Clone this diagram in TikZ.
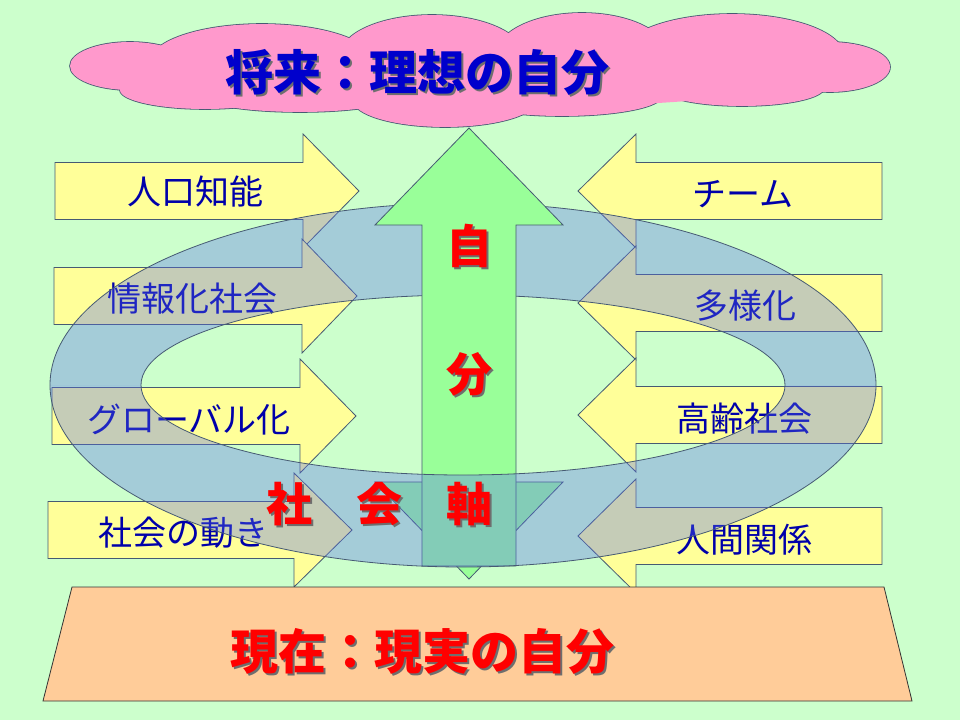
\documentclass[tikz,border=0pt]{standalone}
\usepackage{fontspec}
\usetikzlibrary{positioning}
\newfontfamily\jp{Noto Sans CJK JP}
\definecolor{bggreen}{RGB}{204,255,204}
\definecolor{cloudpink}{RGB}{255,153,204}
\definecolor{signyellow}{RGB}{255,255,153}
\definecolor{axisgreen}{RGB}{153,255,153}
\definecolor{basepeach}{RGB}{255,204,153}
\definecolor{ringblue}{RGB}{90,110,240}
\definecolor{edgeslate}{RGB}{70,90,115}
\definecolor{labelblue}{RGB}{0,0,170}
\definecolor{titleblue}{RGB}{0,0,204}
\definecolor{shadowgray}{RGB}{110,110,110}
\newcommand{\shd}[1]{\rlap{\kern2pt\raisebox{-2pt}{\color{shadowgray}#1}}#1}
\tikzset{
outline/.style={draw=edgeslate, line width=0.8pt},
sign/.style={outline, fill=signyellow},
signlabel/.style={font=\jp\fontsize{34}{40}\selectfont, text=labelblue, inner sep=0pt},
ringfill/.style={fill=ringblue, fill opacity=0.35},
bigtitle/.style={font=\jp\bfseries\fontsize{48}{56}\selectfont, inner sep=0pt},
axislabel/.style={font=\jp\bfseries\fontsize{46}{52}\selectfont, text=red, inner sep=0pt}
}

\begin{document}
\begin{tikzpicture}[x=1pt, y=-1pt]
\fill[bggreen] (0,0) rectangle (960,720);
\useasboundingbox (0,0) rectangle (960,720);
% future: cloud made of puffs
\foreach \cx/\cy/\rx/\ry in {130/66/60/24, 205/90/85/19, 262/62/112/38, 432/56/92/41, 582/55/86/42,
732/56/112/42, 830/67/60/25, 742/88/82/18, 562/96/100/20, 445/100/92/27, 300/95/100/17}
\draw[outline, line width=1.6pt] (\cx,\cy) ellipse[x radius=\rx, y radius=\ry];
\foreach \cx/\cy/\rx/\ry in {130/66/60/24, 205/90/85/19, 262/62/112/38, 432/56/92/41, 582/55/86/42,
732/56/112/42, 830/67/60/25, 742/88/82/18, 562/96/100/20, 445/100/92/27, 300/95/100/17, 480/72/350/36}
\fill[cloudpink] (\cx,\cy) ellipse[x radius=\rx, y radius=\ry];
\node[bigtitle, text=titleblue] (futuretext) at (417,73) {\shd{将来：理想の自分}};
% society arrows (left, pointing right)
\foreach \lx/\bx/\tx/\cy in {55/303/359/191, 54/302/357/296, 52/300/356/416, 48/294/352/530}
\draw[sign] ({\lx},{\cy-28.5}) -- ({\bx},{\cy-28.5}) -- ({\bx},{\cy-57}) -- ({\tx},{\cy})
-- ({\bx},{\cy+57}) -- ({\bx},{\cy+28.5}) -- ({\lx},{\cy+28.5}) -- cycle;
% self arrows (right, pointing left)
\foreach \cy in {191, 303, 415, 536}
\draw[sign] (882,{\cy-28.5}) -- (636,{\cy-28.5}) -- (636,{\cy-57}) -- (578,{\cy})
-- (636,{\cy+57}) -- (636,{\cy+28.5}) -- (882,{\cy+28.5}) -- cycle;
\foreach \nm/\x/\y/\t in {jinko/195/192/人口知能, joho/192/299/情報化社会, global/189/420/グローバル化, ugoki/183/533/社会の動き,
team/743/194/チーム, tayou/745/306/多様化, korei/744/419/高齢社会, ningen/744/540/人間関係}
\node[signlabel] (\nm) at (\x,\y) {\t};
% ring, upper half
\fill[ringfill] (50,385) arc[start angle=180, end angle=360, x radius=413, y radius=182]
-- (785,385) arc[start angle=0, end angle=-180, x radius=322, y radius=90] -- cycle;
\draw[outline] (50,385) arc[start angle=180, end angle=360, x radius=413, y radius=182];
\draw[outline] (785,385) arc[start angle=0, end angle=-180, x radius=322, y radius=90];
% self axis
\draw[outline, fill=axisgreen] (375,482) -- (563,482) -- (469,579) -- cycle;
\draw[outline, fill=axisgreen] (422,566) -- (422,225) -- (375,225) -- (469,128)
-- (563,225) -- (516,225) -- (516,566) -- cycle;
% ring, lower half
\fill[ringfill] (50,385) arc[start angle=180, end angle=0, x radius=413, y radius=182]
-- (785,385) arc[start angle=0, end angle=180, x radius=322, y radius=90] -- cycle;
\draw[outline] (50,385) arc[start angle=180, end angle=0, x radius=413, y radius=182];
\draw[outline] (785,385) arc[start angle=0, end angle=180, x radius=322, y radius=90];
% axis labels
\node[axislabel] (jiku) at (469,505) {\shd{軸}};
\node[axislabel, left=43pt of jiku] (kai) {\shd{会}};
\node[axislabel, left=44pt of kai] (sha) {\shd{社}};
\node[axislabel, above=83pt of jiku] (bun) {\shd{分}};
\node[axislabel, above=83pt of bun] (ji) {\shd{自}};
% present: base
\draw[draw=black!80, line width=0.8pt, fill=basepeach] (72,587) -- (884,587) -- (912,701) -- (43,701) -- cycle;
\node[bigtitle, text=red] (nowtext) at (422,652) {\shd{現在：現実の自分}};
\end{tikzpicture}
\end{document}
